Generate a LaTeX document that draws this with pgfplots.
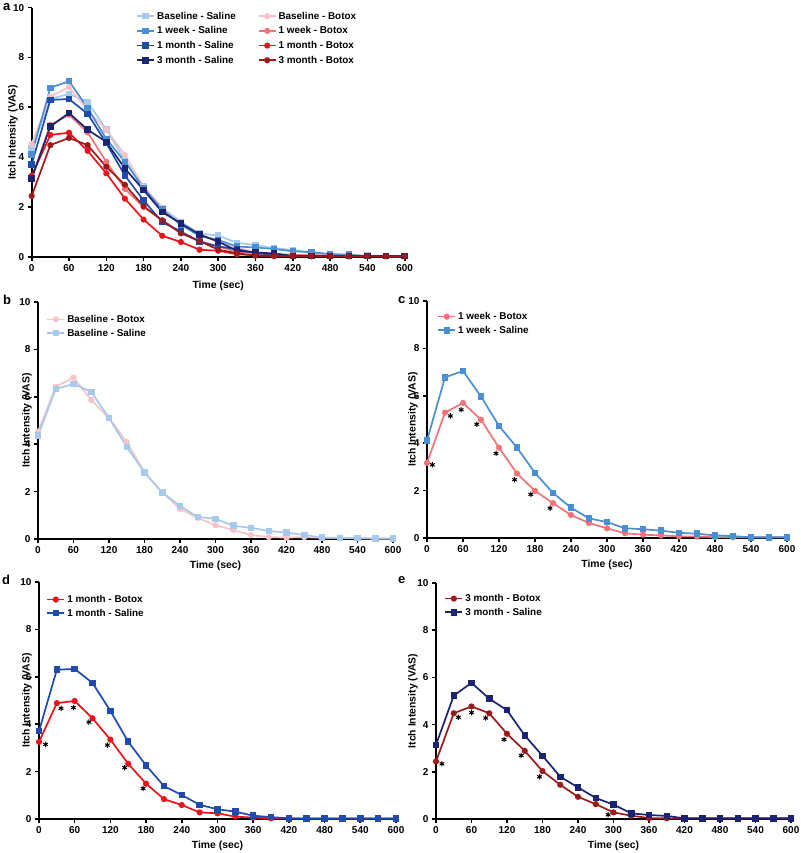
\documentclass[border=0pt]{standalone}
\usepackage{fontspec}
\setmainfont{Liberation Sans}
\usepackage{pgfplots}
\usepackage{pgfplotstable}
\pgfplotsset{compat=1.18}

\definecolor{cBS}{HTML}{A6C9EC}
\definecolor{cWS}{HTML}{4A8FD3}
\definecolor{cMS}{HTML}{1F4AAE}
\definecolor{cTS}{HTML}{1B2472}
\definecolor{cBB}{HTML}{F7C3C8}
\definecolor{cWB}{HTML}{F07377}
\definecolor{cMB}{HTML}{E8141B}
\definecolor{cTB}{HTML}{9E1A1A}

\pgfplotstableread{
t    BS    BB    WS    WB    MS    MB    TS    TB
0    4.36  4.53  4.11  3.17  3.71  3.25  3.14  2.44
30   6.33  6.43  6.78  5.29  6.30  4.89  5.23  4.48
60   6.54  6.81  7.05  5.70  6.33  4.98  5.77  4.77
90   6.21  5.87  5.97  4.99  5.74  4.25  5.10  4.48
120  5.11  5.11  4.73  3.81  4.56  3.35  4.61  3.61
150  3.88  4.09  3.81  2.72  3.26  2.33  3.54  2.89
180  2.81  2.81  2.75  1.99  2.26  1.49  2.68  2.03
210  1.96  1.97  1.90  1.47  1.39  0.84  1.79  1.45
240  1.40  1.27  1.28  0.97  1.01  0.59  1.34  0.94
270  0.93  0.89  0.83  0.63  0.60  0.28  0.89  0.63
300  0.85  0.58  0.67  0.41  0.41  0.24  0.61  0.28
330  0.56  0.38  0.41  0.20  0.31  0.10  0.24  0.14
360  0.47  0.17  0.37  0.14  0.14  0.06  0.17  0.04
390  0.34  0.08  0.31  0.11  0.08  0.03  0.13  0.03
420  0.27  0.06  0.22  0.07  0.03  0.02  0.03  0.02
450  0.17  0.08  0.18  0.06  0.02  0.02  0.03  0.02
480  0.06  0.05  0.11  0.04  0.02  0.02  0.03  0.02
510  0.05  0.05  0.08  0.03  0.02  0.02  0.03  0.02
540  0.04  0.04  0.03  0.03  0.02  0.02  0.03  0.02
570  0.02  0.02  0.03  0.03  0.02  0.02  0.03  0.02
600  0.02  0.02  0.03  0.03  0.02  0.02  0.03  0.02
}\itch

\pgfplotstableread{
t y
9 3.09
39 5.15
57 5.41
83 4.80
115 3.57
146 2.46
173 1.84
205 1.26
}\starC
\pgfplotstableread{
t y
11 3.15
37 4.67
58 4.70
84 4.09
115 3.12
144 2.17
175 1.29
}\starD
\pgfplotstableread{
t y
10 2.34
38 4.31
60 4.51
84 4.28
115 3.37
144 2.69
175 1.79
291 0.18
}\starE

\pgfplotsset{
  gp/.style={
    scale only axis, anchor=south west,
    axis x line=bottom, axis y line=left,
    axis line style={line width=1.7pt,-},
    xmin=0, xmax=600, ymin=0, ymax=10,
    xtick={0,60,...,600}, ytick={0,2,...,10},
    tick align=outside, major tick length=4pt,
    tick style={line width=1.6pt, black},
    tick label style={font=\bfseries\fontsize{10}{11}\selectfont},
    /pgf/number format/assume math mode=true,
    label style={font=\bfseries\fontsize{10.4}{11}\selectfont},
    xlabel={Time (sec)}, ylabel={Itch Intensity (VAS)},
    clip=false,
    legend cell align=left,
    legend style={draw=none, fill=none, font=\bfseries\fontsize{9.9}{11}\selectfont, anchor=north west, row sep=1pt},
  },
  sal/.style={color=#1, line width=1.7pt, mark=square*, mark size=2.4pt, mark options={solid}},
  bot/.style={color=#1, line width=1.7pt, mark=*, mark size=2.2pt, mark options={solid}},
  star/.style={only marks, mark=asterisk, mark size=2.7pt, black, mark options={line width=1pt}},
}

\begin{document}
\begin{tikzpicture}
\useasboundingbox (0,0) rectangle (800pt,-853pt);
% panel a
\begin{axis}[gp, at={(31.7pt,-256.7pt)}, width=373pt, height=249pt,
  xlabel style={at={(axis description cs:0.5,-0.115)}, anchor=center},
  ylabel style={at={(axis description cs:-0.050,0.5)}, anchor=center},
  legend columns=2,
  legend style={at={(0.272,1.0)}, row sep=2pt, /tikz/every even column/.append style={column sep=20pt}}]
\addplot[sal=cBS] table[x=t,y=BS]{\itch}; \addlegendentry{Baseline - Saline}
\addplot[bot=cBB] table[x=t,y=BB]{\itch}; \addlegendentry{Baseline - Botox}
\addplot[sal=cWS] table[x=t,y=WS]{\itch}; \addlegendentry{1 week - Saline}
\addplot[bot=cWB] table[x=t,y=WB]{\itch}; \addlegendentry{1 week - Botox}
\addplot[sal=cMS] table[x=t,y=MS]{\itch}; \addlegendentry{1 month - Saline}
\addplot[bot=cMB] table[x=t,y=MB]{\itch}; \addlegendentry{1 month - Botox}
\addplot[sal=cTS] table[x=t,y=TS]{\itch}; \addlegendentry{3 month - Saline}
\addplot[bot=cTB] table[x=t,y=TB]{\itch}; \addlegendentry{3 month - Botox}
\end{axis}
% panel b
\begin{axis}[gp, at={(38pt,-539pt)}, width=355pt, height=237pt,
  xlabel style={at={(axis description cs:0.5,-0.114)}, anchor=center},
  ylabel style={at={(axis description cs:-0.031,0.5)}, anchor=center},
  legend style={at={(0.015,0.962)}}]
\addplot[bot=cBB] table[x=t,y=BB]{\itch}; \addlegendentry{Baseline - Botox}
\addplot[sal=cBS] table[x=t,y=BS]{\itch}; \addlegendentry{Baseline - Saline}
\end{axis}
% panel c
\begin{axis}[gp, at={(427pt,-538pt)}, width=360pt, height=237pt,
  xlabel style={at={(axis description cs:0.5,-0.114)}, anchor=center},
  ylabel style={at={(axis description cs:-0.039,0.5)}, anchor=center},
  legend style={at={(0.02,0.97)}}]
\addplot[bot=cWB] table[x=t,y=WB]{\itch}; \addlegendentry{1 week - Botox}
\addplot[sal=cWS] table[x=t,y=WS]{\itch}; \addlegendentry{1 week - Saline}
\addplot[star, forget plot] table[x=t,y=y]{\starC};
\end{axis}
% panel d
\begin{axis}[gp, at={(39pt,-819pt)}, width=357pt, height=237pt,
  xlabel style={at={(axis description cs:0.5,-0.114)}, anchor=center},
  ylabel style={at={(axis description cs:-0.034,0.5)}, anchor=center},
  legend style={at={(0.012,0.962)}}]
\addplot[bot=cMB] table[x=t,y=MB]{\itch}; \addlegendentry{1 month - Botox}
\addplot[sal=cMS] table[x=t,y=MS]{\itch}; \addlegendentry{1 month - Saline}
\addplot[star, forget plot] table[x=t,y=y]{\starD};
\end{axis}
% panel e
\begin{axis}[gp, at={(436pt,-819pt)}, width=355pt, height=236pt,
  xlabel style={at={(axis description cs:0.5,-0.114)}, anchor=center},
  ylabel style={at={(axis description cs:-0.065,0.5)}, anchor=center},
  legend style={at={(0.015,0.97)}}]
\addplot[bot=cTB] table[x=t,y=TB]{\itch}; \addlegendentry{3 month - Botox}
\addplot[sal=cTS] table[x=t,y=TS]{\itch}; \addlegendentry{3 month - Saline}
\addplot[star, forget plot] table[x=t,y=y]{\starE};
\end{axis}
% panel letters
\node[font=\bfseries\fontsize{13}{13}\selectfont, anchor=north west, inner sep=0pt] at (3pt,-3pt) {a};
\node[font=\bfseries\fontsize{13}{13}\selectfont, anchor=north west, inner sep=0pt] at (3pt,-295pt) {b};
\node[font=\bfseries\fontsize{13}{13}\selectfont, anchor=north west, inner sep=0pt] at (398pt,-296pt) {c};
\node[font=\bfseries\fontsize{13}{13}\selectfont, anchor=north west, inner sep=0pt] at (2pt,-575pt) {d};
\node[font=\bfseries\fontsize{13}{13}\selectfont, anchor=north west, inner sep=0pt] at (398pt,-576pt) {e};
\end{tikzpicture}
\end{document}
